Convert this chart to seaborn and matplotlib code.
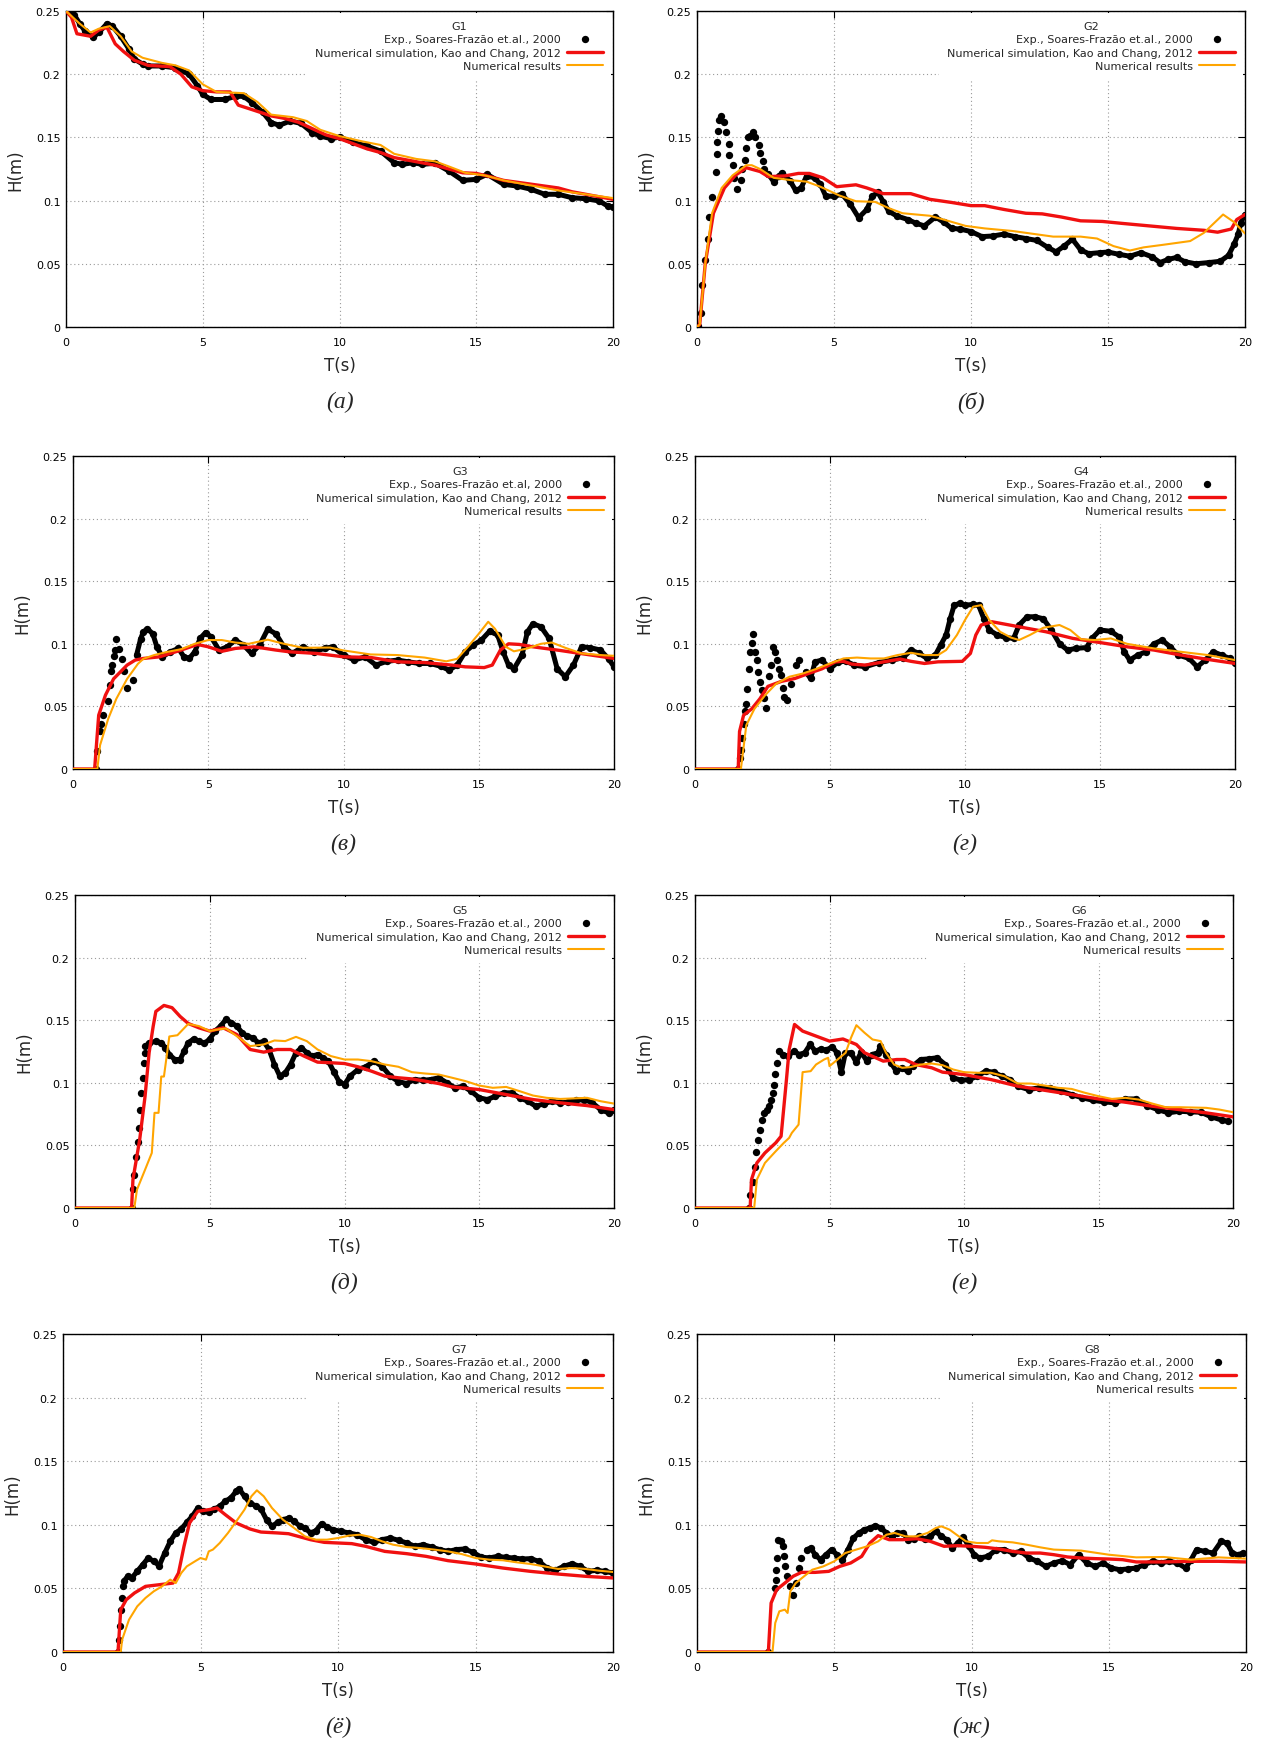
import numpy as np
import matplotlib
matplotlib.use("Agg")
import matplotlib.pyplot as plt
import seaborn as sns
from matplotlib.ticker import FuncFormatter, MultipleLocator

gauges = ["G1", "G2", "G3", "G4", "G5", "G6", "G7", "G8"]
captions = ["(а)", "(б)", "(в)", "(г)", "(д)", "(е)", "(ё)", "(ж)"]
exp_labels = ["Exp., Soares-Frazão et.al., 2000"] * 8
exp_labels[2] = "Exp., Soares-Frazão et.al, 2000"
kao_label = "Numerical simulation, Kao and Chang, 2012"
num_label = "Numerical results"

# time from which the measured points are dense enough to look like a band
band_from = [0.0, 2.5, 2.3, 3.9, 2.6, 3.1, 2.2, 3.8]

# (t [s], H [m])
g1_exp = [(0, 0.25), (0.3, 0.247), (0.5, 0.240), (0.7, 0.234), (1.0, 0.2295), (1.2, 0.233), (1.5, 0.240),
          (1.7, 0.238), (2.0, 0.230), (2.3, 0.220), (2.5, 0.212), (2.8, 0.208), (3.0, 0.2065), (3.5, 0.2065),
          (4.0, 0.205), (4.5, 0.200), (4.8, 0.191), (5.0, 0.184), (5.3, 0.180), (5.8, 0.180), (6.2, 0.1825),
          (6.5, 0.1825), (6.8, 0.1775), (7.2, 0.1697), (7.5, 0.1617), (7.8, 0.1596), (8.2, 0.163), (8.6, 0.161),
          (9.0, 0.1538), (9.3, 0.151), (9.7, 0.149), (10.0, 0.1503), (10.5, 0.146), (11.0, 0.1432), (11.5, 0.1392),
          (12.0, 0.130), (12.3, 0.1287), (12.7, 0.130), (13.0, 0.1287), (13.5, 0.1295), (14.0, 0.1234),
          (14.5, 0.116), (15.0, 0.1168), (15.4, 0.1208), (16.0, 0.1129), (16.5, 0.1115), (17.0, 0.109),
          (17.5, 0.105), (18.0, 0.105), (18.5, 0.1023), (19.0, 0.1015), (19.5, 0.0997), (19.8, 0.0958), (20.0, 0.095)]
g1_kao = [(0, 0.25), (0.2, 0.245), (0.4, 0.232), (0.9, 0.230), (1.2, 0.235), (1.5, 0.237), (1.8, 0.224),
          (2.1, 0.218), (2.5, 0.211), (3.0, 0.207), (3.8, 0.206), (4.2, 0.200), (4.6, 0.190), (5.0, 0.187),
          (5.5, 0.186), (6.0, 0.186), (6.3, 0.1755), (6.8, 0.172), (7.5, 0.167), (8.0, 0.165), (8.5, 0.162),
          (9.0, 0.157), (9.5, 0.152), (10, 0.149), (10.5, 0.145), (11, 0.141), (11.5, 0.138), (12, 0.134),
          (12.5, 0.132), (13, 0.130), (13.5, 0.128), (14, 0.125), (14.5, 0.122), (15, 0.1215), (15.5, 0.119),
          (16, 0.116), (17, 0.113), (18, 0.110), (18.5, 0.107), (19, 0.105), (19.5, 0.103), (20, 0.101)]
g1_num = [(0, 0.25), (0.5, 0.240), (0.9, 0.233), (1.2, 0.236), (1.6, 0.238), (2.0, 0.230), (2.4, 0.218),
          (2.8, 0.213), (3.5, 0.209), (4.0, 0.207), (4.5, 0.203), (5.0, 0.192), (5.5, 0.186), (6.5, 0.185),
          (7.0, 0.178), (7.5, 0.168), (8.3, 0.166), (8.8, 0.163), (9.3, 0.156), (10, 0.151), (10.8, 0.147),
          (11.5, 0.144), (12, 0.137), (12.8, 0.133), (13.5, 0.131), (14, 0.127), (14.6, 0.122), (15.3, 0.120),
          (16, 0.116), (17, 0.112), (18, 0.108), (19, 0.105), (20, 0.102)]

g2_exp = [(0.05, 0.001), (0.15, 0.011), (0.2, 0.033), (0.28, 0.053), (0.4, 0.070), (0.45, 0.087), (0.55, 0.103),
          (0.7, 0.123), (0.72, 0.137), (0.74, 0.146), (0.78, 0.155), (0.8, 0.164), (0.88, 0.167), (1.0, 0.162),
          (1.07, 0.154), (1.15, 0.145), (1.17, 0.136), (1.3, 0.128), (1.35, 0.118), (1.45, 0.109), (1.6, 0.116),
          (1.65, 0.125), (1.75, 0.1325), (1.8, 0.142), (1.85, 0.150), (1.95, 0.151), (2.05, 0.1545), (2.13, 0.150),
          (2.25, 0.144), (2.3, 0.138), (2.4, 0.131), (2.45, 0.125), (2.6, 0.121), (2.8, 0.115), (3.0, 0.1195),
          (3.1, 0.122), (3.4, 0.1155), (3.6, 0.108), (3.8, 0.110), (4.0, 0.1195), (4.3, 0.118), (4.5, 0.113),
          (4.7, 0.1035), (5.0, 0.1035), (5.3, 0.105), (5.6, 0.097), (5.9, 0.0865), (6.2, 0.093), (6.4, 0.1035),
          (6.6, 0.1065), (6.8, 0.099), (7.0, 0.0915), (7.3, 0.0878), (7.7, 0.085), (8.0, 0.082), (8.3, 0.080),
          (8.7, 0.087), (9.0, 0.083), (9.3, 0.078), (9.6, 0.0775), (10, 0.0755), (10.4, 0.0715), (10.8, 0.072),
          (11.2, 0.0735), (11.6, 0.0715), (12, 0.070), (12.4, 0.0685), (12.8, 0.063), (13.1, 0.0595), (13.4, 0.064),
          (13.7, 0.0695), (14, 0.061), (14.3, 0.058), (14.7, 0.0588), (15.0, 0.0593), (15.4, 0.0575), (15.8, 0.056),
          (16.2, 0.0588), (16.6, 0.0556), (16.9, 0.051), (17.2, 0.0535), (17.5, 0.055), (17.8, 0.0517), (18.2, 0.050),
          (18.7, 0.051), (19.1, 0.052), (19.4, 0.0567), (19.6, 0.0654), (19.75, 0.0733), (19.85, 0.0826), (20, 0.089)]
g2_kao = [(0, 0), (0.1, 0.002), (0.3, 0.05), (0.6, 0.09), (1.0, 0.11), (1.4, 0.12), (1.8, 0.126), (2.3, 0.123),
          (2.6, 0.119), (3.2, 0.1195), (3.7, 0.1215), (4.1, 0.1215), (4.6, 0.118), (5.1, 0.111), (5.8, 0.1125),
          (6.2, 0.110), (6.8, 0.1055), (7.8, 0.1055), (8.5, 0.101), (9.3, 0.0985), (10, 0.096), (10.5, 0.096),
          (11.2, 0.093), (12, 0.090), (12.6, 0.0895), (13.3, 0.087), (14, 0.084), (14.8, 0.0835), (15.5, 0.082),
          (16.5, 0.080), (17.5, 0.078), (18.5, 0.0765), (19, 0.075), (19.5, 0.0775), (19.7, 0.085), (20, 0.089)]
g2_num = [(0, 0), (0.1, 0.002), (0.3, 0.05), (0.55, 0.09), (0.9, 0.11), (1.3, 0.12), (1.8, 0.128), (2.0, 0.128),
          (2.3, 0.125), (2.8, 0.118), (3.5, 0.116), (4.0, 0.115), (4.5, 0.111), (5.2, 0.104), (5.8, 0.0995),
          (6.5, 0.099), (7.0, 0.094), (7.5, 0.090), (8.5, 0.088), (9.0, 0.085), (9.8, 0.080), (10.5, 0.078),
          (11.5, 0.076), (12.5, 0.073), (13, 0.0715), (14, 0.0715), (14.6, 0.070), (15.2, 0.064), (15.8, 0.0605),
          (16.3, 0.063), (17, 0.065), (18, 0.068), (18.5, 0.0745), (19.2, 0.089), (19.6, 0.083), (20, 0.074)]

g3_exp = [(0.85, 0.0), (0.9, 0.014), (0.98, 0.030), (1.05, 0.036), (1.1, 0.043), (1.3, 0.054), (1.35, 0.067),
          (1.4, 0.078), (1.45, 0.083), (1.5, 0.090), (1.55, 0.095), (1.6, 0.104), (1.7, 0.096), (1.8, 0.088),
          (1.9, 0.078), (2.0, 0.065), (2.2, 0.071), (2.35, 0.091), (2.5, 0.104), (2.6, 0.1095), (2.75, 0.112),
          (2.95, 0.108), (3.1, 0.0976), (3.3, 0.0896), (3.6, 0.0936), (3.9, 0.0963), (4.1, 0.0896), (4.3, 0.0883),
          (4.5, 0.0936), (4.7, 0.1043), (4.9, 0.109), (5.1, 0.1056), (5.4, 0.095), (5.7, 0.0976), (6.0, 0.103),
          (6.3, 0.099), (6.6, 0.0923), (6.9, 0.099), (7.2, 0.1117), (7.5, 0.108), (7.8, 0.0976), (8.1, 0.0923),
          (8.5, 0.0976), (8.9, 0.0936), (9.3, 0.0963), (9.6, 0.0976), (10, 0.091), (10.4, 0.087), (10.8, 0.0896),
          (11.2, 0.083), (11.6, 0.086), (12, 0.087), (12.4, 0.0856), (12.8, 0.0843), (13.2, 0.0843), (13.6, 0.082),
          (13.9, 0.079), (14.2, 0.083), (14.5, 0.0936), (14.8, 0.099), (15.1, 0.103), (15.4, 0.110), (15.7, 0.107),
          (15.9, 0.0936), (16.1, 0.083), (16.3, 0.080), (16.6, 0.091), (16.8, 0.1096), (17.0, 0.116), (17.3, 0.1136),
          (17.6, 0.1043), (17.9, 0.080), (18.2, 0.0737), (18.5, 0.083), (18.8, 0.0976), (19.1, 0.097), (19.5, 0.095),
          (19.8, 0.088), (20, 0.0816)]
g3_kao = [(0, 0), (0.8, 0), (0.95, 0.043), (1.2, 0.059), (1.5, 0.072), (2.0, 0.083), (2.3, 0.087), (2.6, 0.0883),
          (3.2, 0.0896), (4.0, 0.095), (4.6, 0.0995), (5.0, 0.0976), (5.5, 0.094), (6.0, 0.0963), (6.7, 0.0976),
          (7.5, 0.095), (8.0, 0.0936), (9.0, 0.0923), (10, 0.0896), (11, 0.0891), (12, 0.0856), (13, 0.085),
          (14, 0.083), (14.5, 0.0816), (15.2, 0.081), (15.5, 0.083), (15.8, 0.095), (16.1, 0.100), (16.5, 0.0995),
          (17, 0.0976), (18, 0.0947), (19, 0.0915), (20, 0.0883)]
g3_num = [(0, 0), (0.9, 0), (1.0, 0.019), (1.3, 0.040), (1.6, 0.056), (2.0, 0.072), (2.4, 0.084), (2.6, 0.088),
          (3.0, 0.091), (3.5, 0.0936), (4.0, 0.0957), (4.5, 0.100), (5.0, 0.103), (5.5, 0.103), (6.0, 0.101),
          (6.5, 0.100), (7.2, 0.1033), (7.8, 0.100), (8.5, 0.0968), (9.5, 0.097), (10, 0.0947), (11, 0.0915),
          (12, 0.091), (13, 0.089), (13.8, 0.086), (14.2, 0.088), (14.6, 0.0976), (15.0, 0.108), (15.35, 0.1176),
          (15.6, 0.112), (16, 0.0976), (16.3, 0.094), (16.8, 0.0963), (17.3, 0.100), (17.7, 0.101), (18.2, 0.0968),
          (18.8, 0.0923), (19.5, 0.091), (20, 0.0904)]

g4_exp = [(1.6, 0.0), (1.65, 0.0085), (1.7, 0.015), (1.75, 0.0245), (1.8, 0.036), (1.85, 0.046), (1.88, 0.052),
          (1.92, 0.064), (2.0, 0.080), (2.05, 0.0936), (2.1, 0.101), (2.15, 0.1075), (2.22, 0.0936), (2.3, 0.087),
          (2.35, 0.0777), (2.42, 0.0697), (2.48, 0.063), (2.55, 0.0564), (2.62, 0.049), (2.75, 0.074), (2.83, 0.083),
          (2.88, 0.0976), (2.95, 0.0936), (3.05, 0.087), (3.12, 0.080), (3.2, 0.075), (3.25, 0.0644), (3.3, 0.0577),
          (3.42, 0.055), (3.57, 0.068), (3.75, 0.083), (3.87, 0.087), (4.1, 0.0777), (4.28, 0.0723), (4.45, 0.0856),
          (4.7, 0.087), (5.0, 0.080), (5.3, 0.0856), (5.6, 0.086), (5.9, 0.083), (6.3, 0.0816), (6.8, 0.085),
          (7.3, 0.087), (7.7, 0.0888), (8.0, 0.095), (8.3, 0.0923), (8.6, 0.0883), (8.9, 0.091), (9.1, 0.099),
          (9.3, 0.107), (9.45, 0.120), (9.6, 0.1309), (9.8, 0.1322), (10.0, 0.1309), (10.3, 0.1314), (10.5, 0.1309),
          (10.7, 0.120), (10.9, 0.111), (11.2, 0.107), (11.5, 0.105), (11.8, 0.1043), (12.0, 0.1149), (12.3, 0.1216),
          (12.6, 0.1216), (12.9, 0.120), (13.2, 0.111), (13.5, 0.100), (13.8, 0.095), (14.1, 0.0963), (14.5, 0.097),
          (14.7, 0.1043), (15.0, 0.111), (15.4, 0.110), (15.7, 0.1056), (15.9, 0.0936), (16.1, 0.087), (16.4, 0.091),
          (16.7, 0.0936), (17.0, 0.100), (17.3, 0.103), (17.6, 0.0976), (17.9, 0.091), (18.3, 0.0883), (18.6, 0.0816),
          (18.9, 0.087), (19.2, 0.0936), (19.5, 0.091), (19.8, 0.0883), (20, 0.0843)]
g4_kao = [(0, 0), (1.6, 0), (1.65, 0.030), (1.8, 0.043), (2.1, 0.048), (2.4, 0.056), (2.7, 0.066), (3.2, 0.070),
          (3.7, 0.0723), (4.2, 0.0763), (4.7, 0.080), (5.2, 0.0856), (5.5, 0.086), (5.8, 0.0838), (6.3, 0.083),
          (7.0, 0.0856), (7.6, 0.0878), (8.0, 0.086), (8.5, 0.0843), (9.0, 0.0856), (9.9, 0.086), (10.2, 0.0923),
          (10.4, 0.107), (10.6, 0.115), (11.0, 0.1176), (12, 0.1136), (13, 0.1096), (14, 0.1043), (15, 0.101),
          (16, 0.0976), (17, 0.095), (18, 0.091), (19, 0.0875), (20, 0.0843)]
g4_num = [(0, 0), (1.7, 0), (1.9, 0.035), (2.2, 0.048), (2.6, 0.059), (3.0, 0.068), (3.5, 0.0737), (4.0, 0.0763),
          (4.5, 0.080), (5.0, 0.0843), (5.5, 0.0883), (6.0, 0.089), (6.5, 0.0883), (7.0, 0.0883), (7.5, 0.091),
          (8.0, 0.0928), (8.5, 0.091), (9.0, 0.091), (9.3, 0.095), (9.7, 0.107), (10.0, 0.119), (10.3, 0.1296),
          (10.6, 0.1309), (10.9, 0.119), (11.3, 0.1096), (11.7, 0.105), (12.0, 0.103), (12.4, 0.107), (12.9, 0.1128),
          (13.5, 0.115), (13.9, 0.111), (14.3, 0.1037), (14.8, 0.103), (15.4, 0.1043), (16, 0.100), (17, 0.0963),
          (18, 0.0936), (19, 0.091), (20, 0.087)]

g5_exp = [(2.12, 0.0), (2.17, 0.0152), (2.2, 0.026), (2.27, 0.041), (2.34, 0.0525), (2.37, 0.064), (2.42, 0.078),
          (2.46, 0.092), (2.52, 0.104), (2.57, 0.116), (2.58, 0.124), (2.61, 0.129), (2.76, 0.132), (3.0, 0.133),
          (3.2, 0.132), (3.35, 0.128), (3.5, 0.1226), (3.7, 0.1186), (3.9, 0.1186), (4.05, 0.1253), (4.2, 0.132),
          (4.4, 0.135), (4.6, 0.133), (4.8, 0.1314), (5.0, 0.135), (5.2, 0.1413), (5.4, 0.1453), (5.6, 0.1506),
          (5.8, 0.148), (6.0, 0.1453), (6.2, 0.140), (6.4, 0.137), (6.6, 0.136), (6.8, 0.132), (7.0, 0.133),
          (7.2, 0.1266), (7.4, 0.1146), (7.6, 0.1053), (7.8, 0.108), (8.0, 0.1146), (8.2, 0.124), (8.4, 0.128),
          (8.6, 0.124), (8.8, 0.1213), (9.0, 0.1226), (9.2, 0.12), (9.4, 0.1173), (9.6, 0.109), (9.8, 0.101),
          (10.0, 0.0986), (10.2, 0.1053), (10.5, 0.1106), (10.8, 0.113), (11.1, 0.1173), (11.4, 0.113), (11.7, 0.1053),
          (12.0, 0.101), (12.3, 0.0994), (12.6, 0.1026), (12.9, 0.102), (13.2, 0.1026), (13.5, 0.104), (13.8, 0.100),
          (14.1, 0.096), (14.4, 0.0973), (14.7, 0.0933), (15.0, 0.088), (15.3, 0.0866), (15.6, 0.0893), (15.9, 0.092),
          (16.2, 0.092), (16.5, 0.088), (16.8, 0.0853), (17.1, 0.0813), (17.4, 0.0832), (17.7, 0.0853), (18.0, 0.084),
          (18.3, 0.0845), (18.6, 0.086), (18.9, 0.0866), (19.2, 0.084), (19.5, 0.0786), (19.8, 0.076), (20, 0.0786)]
g5_kao = [(0, 0), (2.1, 0), (2.15, 0.0227), (2.4, 0.0546), (2.6, 0.0893), (2.75, 0.124), (2.9, 0.145), (3.0, 0.157),
          (3.3, 0.1618), (3.6, 0.160), (3.9, 0.153), (4.2, 0.1474), (4.6, 0.1439), (5.0, 0.1413), (5.5, 0.1439),
          (6.0, 0.1386), (6.5, 0.1266), (7.0, 0.1245), (7.5, 0.1266), (8.0, 0.1266), (8.5, 0.1213), (9.0, 0.1165),
          (9.5, 0.116), (10, 0.1154), (10.5, 0.1128), (11, 0.1093), (11.5, 0.1053), (12, 0.104), (12.5, 0.1031),
          (13, 0.1013), (13.5, 0.0994), (14, 0.0967), (15, 0.0946), (16, 0.0906), (17, 0.0866), (18, 0.084),
          (19, 0.0818), (20, 0.0786)]
g5_num = [(0, 0), (2.2, 0), (2.3, 0.0147), (2.6, 0.0306), (2.85, 0.044), (2.95, 0.076), (3.1, 0.076), (3.2, 0.105),
          (3.3, 0.105), (3.5, 0.137), (3.8, 0.138), (4.2, 0.147), (4.6, 0.1453), (5.0, 0.1413), (5.3, 0.1426),
          (5.6, 0.1434), (6.0, 0.1373), (6.5, 0.1293), (7.0, 0.1306), (7.4, 0.1338), (7.8, 0.1333), (8.2, 0.1367),
          (8.6, 0.1333), (9.0, 0.1266), (9.5, 0.1213), (10, 0.1186), (10.5, 0.1186), (11, 0.1173), (11.5, 0.1146),
          (12, 0.1128), (12.5, 0.1085), (13, 0.1074), (13.5, 0.1066), (14, 0.104), (14.5, 0.1013), (15, 0.0978),
          (15.5, 0.096), (16, 0.0967), (16.5, 0.0933), (17, 0.0898), (17.5, 0.088), (18, 0.0871), (19, 0.088),
          (19.5, 0.0853), (20, 0.0834)]

g6_exp = [(2.0, 0.0), (2.03, 0.0107), (2.15, 0.0205), (2.22, 0.0328), (2.27, 0.0445), (2.35, 0.0546), (2.41, 0.0626),
          (2.49, 0.0706), (2.56, 0.076), (2.67, 0.0786), (2.76, 0.0813), (2.83, 0.0866), (2.89, 0.092), (2.94, 0.0986),
          (2.98, 0.1074), (3.04, 0.116), (3.11, 0.1253), (3.26, 0.1226), (3.45, 0.1213), (3.68, 0.1253), (3.87, 0.1226),
          (4.08, 0.124), (4.28, 0.1306), (4.47, 0.1253), (4.68, 0.127), (4.87, 0.126), (5.1, 0.1287), (5.28, 0.124),
          (5.44, 0.1085), (5.59, 0.124), (5.8, 0.124), (5.99, 0.1165), (6.18, 0.1245), (6.39, 0.1173), (6.59, 0.1226),
          (6.8, 0.124), (6.89, 0.1293), (7.1, 0.1226), (7.29, 0.116), (7.48, 0.1093), (7.69, 0.112), (7.9, 0.1093),
          (8.09, 0.1133), (8.39, 0.1186), (8.69, 0.1191), (9.0, 0.12), (9.3, 0.1146), (9.6, 0.104), (9.9, 0.102),
          (10.2, 0.1026), (10.5, 0.1053), (10.8, 0.1093), (11.1, 0.1085), (11.4, 0.1053), (11.7, 0.1026), (12.0, 0.0973),
          (12.4, 0.0946), (12.8, 0.096), (13.2, 0.096), (13.6, 0.0933), (14.0, 0.0906), (14.4, 0.088), (14.8, 0.086),
          (15.2, 0.0848), (15.6, 0.084), (16.0, 0.0871), (16.4, 0.0871), (16.8, 0.0818), (17.2, 0.0786), (17.6, 0.076),
          (18.0, 0.0773), (18.4, 0.0768), (18.8, 0.0765), (19.2, 0.0728), (19.6, 0.0701), (19.8, 0.0693)]
g6_kao = [(0, 0), (2.05, 0), (2.1, 0.0227), (2.3, 0.036), (2.6, 0.044), (3.0, 0.052), (3.2, 0.0573), (3.4, 0.1026),
          (3.5, 0.1266), (3.7, 0.1466), (4.0, 0.1413), (4.5, 0.1373), (5.0, 0.1333), (5.5, 0.135), (6.0, 0.1306),
          (6.3, 0.124), (7.0, 0.1173), (7.5, 0.1186), (7.8, 0.1186), (8.2, 0.1146), (8.8, 0.112), (9.2, 0.1085),
          (10, 0.1066), (11, 0.1026), (12, 0.0973), (13, 0.094), (14, 0.0906), (15, 0.0871), (16, 0.0845),
          (17, 0.0813), (18, 0.0786), (19, 0.076), (20, 0.0728)]
g6_num = [(0, 0), (2.2, 0), (2.3, 0.0227), (2.6, 0.036), (3.0, 0.0453), (3.3, 0.052), (3.5, 0.056), (3.6, 0.060),
          (3.85, 0.0666), (4.0, 0.1085), (4.3, 0.1093), (4.5, 0.1146), (4.8, 0.1186), (4.95, 0.12), (5.0, 0.1133),
          (5.3, 0.1186), (5.6, 0.124), (5.8, 0.136), (6.0, 0.146), (6.3, 0.14), (6.6, 0.1346), (6.9, 0.1333),
          (7.1, 0.124), (7.4, 0.1146), (7.7, 0.112), (8.0, 0.1125), (8.4, 0.1146), (8.8, 0.1154), (9.2, 0.1141),
          (9.6, 0.1106), (10, 0.1085), (10.5, 0.108), (11, 0.108), (11.5, 0.1053), (12, 0.0994), (12.5, 0.0994),
          (13, 0.0978), (13.5, 0.096), (14, 0.0951), (14.5, 0.092), (15, 0.0893), (15.5, 0.0871), (16, 0.088),
          (16.5, 0.0866), (17, 0.0834), (17.5, 0.0805), (18, 0.0805), (19, 0.080), (19.5, 0.0786), (20, 0.0765)]

g7_exp = [(2.0, 0.0), (2.03, 0.0097), (2.08, 0.0202), (2.11, 0.0333), (2.15, 0.0425), (2.18, 0.0516), (2.21, 0.0556),
          (2.35, 0.0595), (2.5, 0.0582), (2.7, 0.0634), (2.9, 0.0687), (3.1, 0.0739), (3.3, 0.0713), (3.5, 0.0679),
          (3.7, 0.0778), (3.9, 0.087), (4.1, 0.0936), (4.3, 0.0967), (4.5, 0.1019), (4.7, 0.1067), (4.9, 0.1132),
          (5.1, 0.1106), (5.3, 0.1098), (5.5, 0.1124), (5.7, 0.1145), (5.9, 0.1185), (6.1, 0.1211), (6.3, 0.1263),
          (6.4, 0.1284), (6.6, 0.1224), (6.8, 0.1171), (7.0, 0.115), (7.2, 0.1124), (7.4, 0.104), (7.6, 0.0988),
          (7.8, 0.1019), (8.0, 0.104), (8.2, 0.1053), (8.4, 0.1027), (8.6, 0.0993), (8.8, 0.0975), (9.0, 0.0936),
          (9.2, 0.0954), (9.4, 0.1009), (9.6, 0.0983), (9.8, 0.0962), (10.1, 0.0949), (10.4, 0.0936), (10.7, 0.0922),
          (11.0, 0.0883), (11.3, 0.0862), (11.6, 0.0883), (11.9, 0.0896), (12.2, 0.0878), (12.5, 0.0857), (12.8, 0.0831),
          (13.1, 0.0844), (13.4, 0.0825), (13.7, 0.0805), (14.0, 0.0791), (14.3, 0.0805), (14.6, 0.081), (14.9, 0.0784),
          (15.2, 0.0747), (15.5, 0.0739), (15.8, 0.0752), (16.1, 0.0744), (16.4, 0.0739), (16.7, 0.0731), (17.0, 0.0734),
          (17.3, 0.0713), (17.6, 0.066), (17.9, 0.0642), (18.2, 0.0673), (18.5, 0.0694), (18.8, 0.0673), (19.1, 0.0634),
          (19.4, 0.0642), (19.7, 0.0634), (20, 0.0621)]
g7_kao = [(0, 0), (2.0, 0), (2.1, 0.0333), (2.3, 0.0411), (2.6, 0.0464), (3.0, 0.0516), (3.5, 0.0529), (4.0, 0.0542),
          (4.2, 0.0621), (4.4, 0.0831), (4.6, 0.1014), (4.9, 0.1106), (5.3, 0.1119), (5.6, 0.1132), (5.9, 0.108),
          (6.3, 0.1014), (6.8, 0.0967), (7.2, 0.0943), (7.8, 0.0936), (8.2, 0.093), (9.0, 0.0883), (9.5, 0.0862),
          (10.5, 0.0852), (11, 0.0831), (11.7, 0.0791), (12.5, 0.0773), (13.2, 0.0752), (14, 0.0718), (15, 0.0692),
          (16, 0.066), (17, 0.0634), (18, 0.0613), (19, 0.0595), (20, 0.0582)]
g7_num = [(0, 0), (2.1, 0), (2.15, 0.0097), (2.4, 0.0254), (2.7, 0.0359), (3.0, 0.0425), (3.3, 0.0477), (3.6, 0.0516),
          (3.9, 0.0569), (4.1, 0.0542), (4.3, 0.0621), (4.5, 0.0673), (4.8, 0.0713), (5.0, 0.0739), (5.2, 0.0726),
          (5.3, 0.0791), (5.45, 0.0805), (5.7, 0.0857), (6.0, 0.0936), (6.3, 0.1027), (6.6, 0.1119), (6.85, 0.1224),
          (7.05, 0.1271), (7.3, 0.1224), (7.6, 0.1132), (8.0, 0.104), (8.4, 0.0975), (8.8, 0.0909), (9.2, 0.0883),
          (9.6, 0.0883), (10, 0.0896), (10.4, 0.0915), (10.8, 0.0922), (11.2, 0.0904), (11.6, 0.087), (12, 0.0844),
          (12.5, 0.0825), (13, 0.0817), (13.5, 0.0805), (14, 0.0791), (14.5, 0.077), (15, 0.0739), (15.5, 0.0726),
          (16, 0.0721), (16.5, 0.0705), (17, 0.0692), (17.5, 0.0673), (18, 0.0653), (18.5, 0.066), (19, 0.0653),
          (19.5, 0.0639), (20, 0.0629)]

g8_exp = [(2.6, 0.0), (2.84, 0.0503), (2.87, 0.0569), (2.89, 0.0647), (2.9, 0.0739), (2.94, 0.0883), (3.06, 0.087),
          (3.13, 0.0831), (3.18, 0.0752), (3.21, 0.0673), (3.28, 0.0595), (3.38, 0.0516), (3.5, 0.0451), (3.62, 0.0542),
          (3.7, 0.066), (3.79, 0.0739), (4.0, 0.0805), (4.15, 0.0818), (4.3, 0.0765), (4.5, 0.0726), (4.7, 0.0765),
          (4.9, 0.0805), (5.1, 0.0765), (5.3, 0.0726), (5.5, 0.0805), (5.7, 0.0896), (5.9, 0.0936), (6.1, 0.0962),
          (6.3, 0.0975), (6.5, 0.0993), (6.7, 0.0975), (6.9, 0.0936), (7.1, 0.0909), (7.3, 0.0936), (7.5, 0.0936),
          (7.7, 0.0883), (7.9, 0.0888), (8.1, 0.0909), (8.3, 0.0888), (8.5, 0.0909), (8.7, 0.0949), (8.9, 0.0909),
          (9.1, 0.0883), (9.3, 0.0818), (9.5, 0.0857), (9.7, 0.0904), (9.9, 0.0831), (10.1, 0.0765), (10.3, 0.0739),
          (10.6, 0.0752), (10.9, 0.0805), (11.2, 0.0805), (11.5, 0.0778), (11.8, 0.0791), (12.1, 0.0739), (12.4, 0.0713),
          (12.7, 0.0673), (13.0, 0.07), (13.3, 0.0718), (13.6, 0.0687), (13.9, 0.0765), (14.2, 0.07), (14.5, 0.0673),
          (14.8, 0.07), (15.1, 0.066), (15.4, 0.0647), (15.7, 0.0653), (16.0, 0.066), (16.3, 0.0687), (16.6, 0.0713),
          (16.9, 0.07), (17.2, 0.0713), (17.5, 0.07), (17.8, 0.066), (18.0, 0.0726), (18.2, 0.0805), (18.5, 0.0791),
          (18.8, 0.0778), (19.1, 0.087), (19.3, 0.0857), (19.5, 0.0778), (19.7, 0.0765), (19.9, 0.0778)]
g8_kao = [(0, 0), (2.6, 0), (2.7, 0.0385), (2.9, 0.049), (3.2, 0.0542), (3.5, 0.0595), (3.8, 0.0626), (4.3, 0.0626),
          (4.8, 0.0634), (5.2, 0.0673), (5.6, 0.07), (6.0, 0.0752), (6.3, 0.0857), (6.6, 0.0915), (7.0, 0.0883),
          (7.5, 0.0883), (8.0, 0.0891), (8.5, 0.087), (9.0, 0.0831), (9.5, 0.0836), (10, 0.0831), (10.5, 0.0823),
          (11, 0.081), (11.5, 0.0791), (12, 0.0778), (12.5, 0.0778), (13, 0.0765), (13.5, 0.0747), (14, 0.0739),
          (14.5, 0.0734), (15, 0.0731), (15.5, 0.0726), (16, 0.0708), (17, 0.0708), (18, 0.0713), (19, 0.0713),
          (20, 0.0708)]
g8_num = [(0, 0), (2.75, 0), (2.85, 0.0228), (3.0, 0.032), (3.2, 0.0333), (3.3, 0.0307), (3.4, 0.0477), (3.6, 0.0542),
          (3.9, 0.0595), (4.2, 0.0647), (4.6, 0.0673), (5.0, 0.0713), (5.4, 0.0778), (5.8, 0.0805), (6.2, 0.0831),
          (6.6, 0.087), (6.9, 0.0922), (7.2, 0.0936), (7.6, 0.0909), (8.0, 0.0909), (8.4, 0.0936), (8.7, 0.0975),
          (8.9, 0.0988), (9.2, 0.0962), (9.5, 0.0915), (9.8, 0.087), (10.2, 0.0857), (10.6, 0.0857), (10.75, 0.0878),
          (11.0, 0.087), (11.5, 0.0862), (12, 0.0844), (12.5, 0.0823), (13, 0.0805), (14, 0.0797), (15, 0.0765),
          (16, 0.0744), (17, 0.0747), (18, 0.0726), (19, 0.0744), (20, 0.0734)]

exp_data = [g1_exp, g2_exp, g3_exp, g4_exp, g5_exp, g6_exp, g7_exp, g8_exp]
kao_data = [g1_kao, g2_kao, g3_kao, g4_kao, g5_kao, g6_kao, g7_kao, g8_kao]
num_data = [g1_num, g2_num, g3_num, g4_num, g5_num, g6_num, g7_num, g8_num]

# axes boxes in pixels: left, top, right, bottom
W, H = 1261, 1740
boxes = [(66, 12, 613, 328), (697, 12, 1245, 328),
         (73, 457, 614, 770), (695, 457, 1235, 770),
         (75, 896, 614, 1209), (695, 896, 1233, 1209),
         (63, 1335, 613, 1653), (697, 1335, 1246, 1653)]

RED = "#f01010"
ORANGE = "#ffa500"

sns.set_style("white")
plt.rcParams["font.family"] = ["DejaVu Sans"]

fig = plt.figure(figsize=(W / 100, H / 100), dpi=100)

for i in range(8):
    l, t, r, b = boxes[i]
    ax = fig.add_axes([l / W, 1 - b / H, (r - l) / W, (b - t) / H])

    e = np.array(exp_data[i])
    k = np.array(kao_data[i])
    n = np.array(num_data[i])

    dense = e[:, 0] >= band_from[i]
    ax.plot(e[dense, 0], e[dense, 1], color="black", lw=3.6, solid_capstyle="round",
            solid_joinstyle="round", zorder=2)
    sns.scatterplot(x=e[:, 0], y=e[:, 1], ax=ax, color="black", s=28, linewidth=0,
                    zorder=3, label=exp_labels[i])
    sns.lineplot(x=k[:, 0], y=k[:, 1], ax=ax, color=RED, lw=2.4, sort=False,
                 estimator=None, zorder=4, label=kao_label)
    sns.lineplot(x=n[:, 0], y=n[:, 1], ax=ax, color=ORANGE, lw=1.5, sort=False,
                 estimator=None, zorder=5, label=num_label)

    ax.set_xlim(0, 20)
    ax.set_ylim(0, 0.25)
    ax.xaxis.set_major_locator(MultipleLocator(5))
    ax.yaxis.set_major_locator(MultipleLocator(0.05))
    ax.yaxis.set_major_formatter(FuncFormatter(lambda v, p: "%g" % round(v, 3)))
    ax.xaxis.set_major_formatter(FuncFormatter(lambda v, p: "%g" % v))
    ax.tick_params(direction="in", length=5, width=0.8, top=True, right=True,
                   labelsize=8, colors="black")
    ax.tick_params(axis="x", pad=7)
    ax.tick_params(axis="y", pad=4)
    ax.grid(True, linestyle=(0, (1, 2.5)), color="#9a9a9a", lw=0.8)
    ax.set_axisbelow(True)
    for s in ax.spines.values():
        s.set_color("black")
        s.set_linewidth(1.0)

    ax.set_xlabel("T(s)", fontsize=12, labelpad=7)
    ax.set_ylabel("H(m)", fontsize=12, labelpad=8)

    handles, labels = ax.get_legend_handles_labels()
    order = [labels.index(exp_labels[i]), labels.index(kao_label), labels.index(num_label)]
    leg = ax.legend([handles[j] for j in order], [labels[j] for j in order],
                    title=gauges[i], loc="upper right", markerfirst=False,
                    fontsize=8, title_fontsize=8, frameon=True, facecolor="white",
                    edgecolor="none", framealpha=1, handlelength=3.2, handletextpad=0.6,
                    labelspacing=0.3, borderpad=0.7, borderaxespad=0.2)
    leg.get_frame().set_boxstyle("square", pad=0)

    ax.annotate(captions[i], xy=(0.5, 0), xycoords="axes fraction", xytext=(0, -74),
                textcoords="offset pixels", ha="center", va="center", fontsize=17,
                family="Liberation Serif", style="italic")

fig.savefig("out.png", dpi=100)
